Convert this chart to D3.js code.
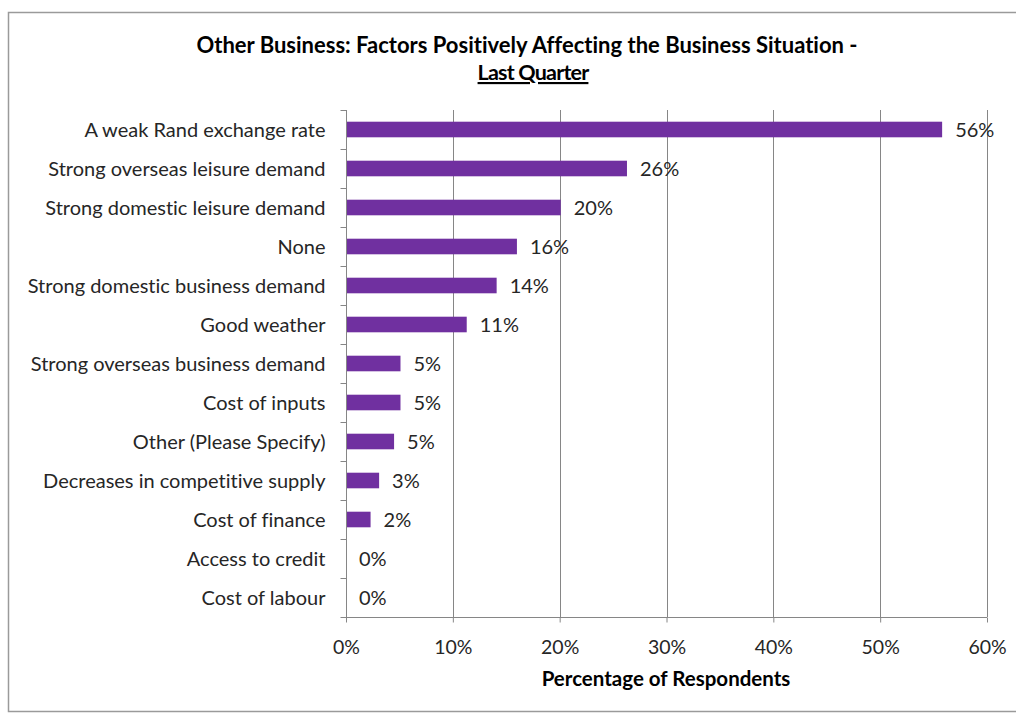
<!DOCTYPE html>
<html>
<head>
<meta charset="utf-8">
<script src="https://cdn.jsdelivr.net/npm/d3@7"></script>
<style>
  html, body { margin: 0; padding: 0; background: #fff; }
  svg { display: block; }
  text { font-family: Lato, "Open Sans", sans-serif; font-variant-ligatures: none; }
</style>
</head>
<body>
<svg id="chart" width="1016" height="713"></svg>
<script>
// Factors and the share of respondents who named each one
const categories = [
  "A weak Rand exchange rate",
  "Strong overseas leisure demand",
  "Strong domestic leisure demand",
  "None",
  "Strong domestic business demand",
  "Good weather",
  "Strong overseas business demand",
  "Cost of inputs",
  "Other (Please Specify)",
  "Decreases in competitive supply",
  "Cost of finance",
  "Access to credit",
  "Cost of labour"
];
const shares = [0.558, 0.263, 0.201, 0.160, 0.141, 0.113, 0.051, 0.051, 0.045, 0.031, 0.023, 0, 0];
const xTicks = [0, 0.1, 0.2, 0.3, 0.4, 0.5, 0.6];

const titleLines = ["Other Business: Factors Positively Affecting the Business Situation -", "Last Quarter"];
const xAxisTitle = "Percentage of Respondents";

const svg = d3.select("#chart");
const W = 1016, H = 713;
const plot = { left: 346, right: 987, top: 110, bottom: 617 };
const gridColor = "#868686";
const textColor = "#262626";
const barColor = "#7030A0";
const labelSize = 20;
const pct = d3.format(".0%");

// Outer chart frame
svg.append("rect")
  .attr("x", 8.5).attr("y", 12.5)
  .attr("width", W + 10).attr("height", 699)
  .attr("fill", "#fff")
  .attr("stroke", "#9a9a9a").attr("stroke-width", 1.5);

const x = d3.scaleLinear().domain([0, 0.6]).range([plot.left, plot.right]);
const y = d3.scaleBand().domain(categories).range([plot.top, plot.bottom])
  .paddingInner(0.6).paddingOuter(0.3);

// Vertical gridlines
svg.append("g").selectAll("line")
  .data(xTicks.slice(1))
  .join("line")
  .attr("x1", d => Math.round(x(d)) + 0.5).attr("x2", d => Math.round(x(d)) + 0.5)
  .attr("y1", plot.top).attr("y2", plot.bottom)
  .attr("stroke", gridColor).attr("stroke-width", 1);

// Bars
svg.append("g").selectAll("rect")
  .data(categories)
  .join("rect")
  .attr("x", x(0) + 1)
  .attr("y", d => y(d))
  .attr("width", (d, i) => Math.max(0, x(shares[i]) - x(0) - 1))
  .attr("height", y.bandwidth())
  .attr("fill", barColor);

// Value labels at the bar ends
svg.append("g").selectAll("text")
  .data(categories)
  .join("text")
  .attr("x", (d, i) => x(shares[i]) + 13)
  .attr("y", d => y(d) + y.bandwidth() / 2)
  .attr("dy", "0.36em")
  .attr("font-size", labelSize)
  .attr("fill", textColor)
  .text((d, i) => pct(shares[i]));

// Category axis (left) with ticks between bands
const yAxisG = svg.append("g").attr("transform", `translate(${plot.left + 0.5},0)`);
yAxisG.append("line")
  .attr("y1", plot.top).attr("y2", plot.bottom)
  .attr("stroke", gridColor);
const bounds = d3.range(categories.length + 1).map(i => plot.top + i * (plot.bottom - plot.top) / categories.length);
yAxisG.selectAll("line.tick")
  .data(bounds)
  .join("line")
  .attr("class", "tick")
  .attr("x1", -6).attr("x2", 0)
  .attr("y1", d => Math.round(d) + 0.5).attr("y2", d => Math.round(d) + 0.5)
  .attr("stroke", gridColor);
yAxisG.selectAll("text")
  .data(categories)
  .join("text")
  .attr("x", -21)
  .attr("y", d => y(d) + y.bandwidth() / 2)
  .attr("dy", "0.36em")
  .attr("text-anchor", "end")
  .attr("font-size", labelSize)
  .attr("fill", textColor)
  .text(d => d);

// Value axis (bottom)
const xAxis = d3.axisBottom(x).tickValues(xTicks).tickFormat(pct).tickSize(5).tickPadding(18);
const xAxisG = svg.append("g")
  .attr("transform", `translate(0,${plot.bottom + 0.5})`)
  .call(xAxis);
xAxisG.select(".domain").attr("stroke", gridColor).attr("d", `M${plot.left},0H${plot.right}`);
xAxisG.selectAll(".tick line").attr("stroke", gridColor);
xAxisG.selectAll(".tick text")
  .attr("font-family", "Lato, 'Open Sans', sans-serif")
  .attr("font-size", 19.5)
  .attr("fill", textColor);

// Axis title
svg.append("text")
  .attr("x", 666)
  .attr("y", 686)
  .attr("text-anchor", "middle")
  .attr("font-size", 20.5)
  .attr("font-weight", "bold")
  .attr("fill", "#000")
  .text(xAxisTitle);

// Chart title, second line underlined
svg.append("text")
  .attr("x", 527).attr("y", 53)
  .attr("text-anchor", "middle")
  .attr("font-size", 22)
  .attr("font-weight", "bold")
  .attr("fill", "#000")
  .text(titleLines[0]);
svg.append("text")
  .attr("x", 533).attr("y", 80)
  .attr("text-anchor", "middle")
  .attr("font-size", 21.5)
  .attr("font-weight", "bold")
  .attr("letter-spacing", "-0.8px")
  .attr("fill", "#000")
  .attr("text-decoration", "underline")
  .text(titleLines[1]);
</script>
</body>
</html>
